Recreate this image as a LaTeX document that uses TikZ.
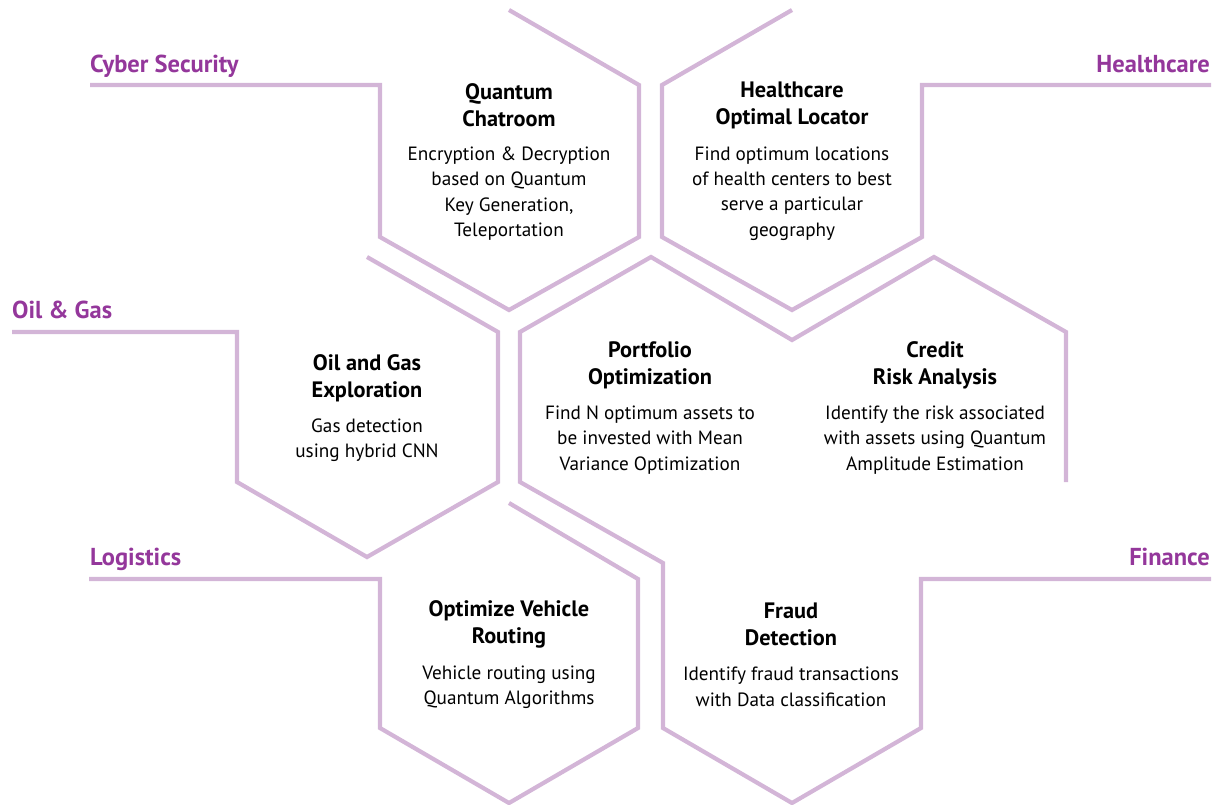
\documentclass[tikz,border=0pt]{standalone}
\usepackage{fontspec}
\setmainfont{PT Sans}
\definecolor{hexline}{HTML}{D3B5D7}
\definecolor{labelpurple}{HTML}{94379B}
\begin{document}
\begin{tikzpicture}[x=1pt,y=-1pt,
  hexpath/.style={draw=hexline,line width=4.2pt,line join=miter},
  sector/.style={font=\fontsize{24.5}{28}\selectfont\bfseries,text=labelpurple,inner sep=0pt},
  ttl/.style={font=\fontsize{22.3}{27}\selectfont\bfseries,align=center,inner sep=0pt},
  body/.style={font=\fontsize{19.2}{25.4}\selectfont,align=center,inner sep=0pt}]
\useasboundingbox (0,0) rectangle (1215,804);
% hexagon outlines
\draw[hexpath] (90,85) -- (380,85) -- (380,237) -- (509,310) -- (639,237) -- (639,85) -- (509,10);
\draw[hexpath] (792,10) -- (662,85) -- (662,237) -- (792,310) -- (922,237) -- (922,85) -- (1211,85);
\draw[hexpath] (12,332) -- (237,332) -- (237,482) -- (367,557) -- (498,482) -- (498,332) -- (367,257);
\draw[hexpath] (1066,482) -- (1066,332) -- (934,257) -- (792,340) -- (651,257) -- (520,332) -- (520,482) -- (663,563) -- (663,728) -- (792,803) -- (921,728) -- (921,579) -- (1211,579);
\draw[hexpath] (89,579) -- (380,579) -- (380,728) -- (509,803) -- (638,728) -- (638,579) -- (509,503);
% sector labels
\node[sector,anchor=base west] (lcyber) at (90,72) {Cyber Security};
\node[sector,anchor=base east] (lhealth) at (1210,72) {Healthcare};
\node[sector,anchor=base west] (loil) at (12,318) {Oil \& Gas};
\node[sector,anchor=base west] (llog) at (90,565) {Logistics};
\node[sector,anchor=base east] (lfin) at (1210,565) {Finance};
% hex texts
\node[ttl] (t1) at (509,105) {Quantum\\Chatroom};
\node[body] (b1) at (509,193.5) {Encryption \& Decryption\\based on Quantum\\Key Generation,\\Teleportation};
\node[ttl] (t2) at (792,105) {Healthcare\\Optimal Locator};
\node[body] (b2) at (792,193.5) {Find optimum locations\\of health centers to best\\serve a particular\\geography};
\node[ttl] (t3) at (367,378) {Oil and Gas\\Exploration};
\node[body] (b3) at (367,440) {Gas detection\\using hybrid CNN};
\node[ttl] (t4) at (650,365) {Portfolio\\Optimization};
\node[body] (b4) at (650,440) {Find N optimum assets to\\be invested with Mean\\Variance Optimization};
\node[ttl] (t5) at (935,365) {Credit\\Risk Analysis};
\node[body] (b5) at (935,440) {Identify the risk associated\\with assets using Quantum\\Amplitude Estimation};
\node[ttl] (t6) at (509,624.5) {Optimize Vehicle\\Routing};
\node[body] (b6) at (509,687) {Vehicle routing using\\Quantum Algorithms};
\node[ttl] (t7) at (791,624.5) {Fraud\\Detection};
\node[body] (b7) at (791,687) {Identify fraud transactions\\with Data classification};
\end{tikzpicture}
\end{document}
